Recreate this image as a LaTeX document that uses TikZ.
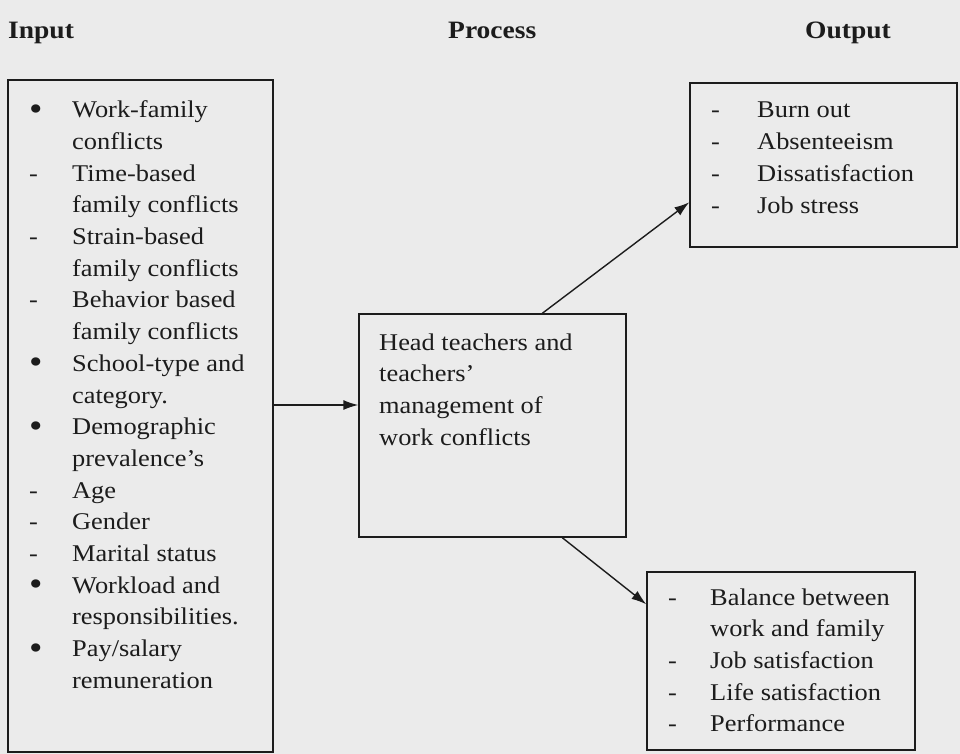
\documentclass[tikz,border=0pt]{standalone}
\usepackage{fontspec}
\setmainfont[FakeStretch=1.1]{Liberation Serif}
\usetikzlibrary{arrows.meta,calc}
\definecolor{paper}{RGB}{235,235,235}
\definecolor{ink}{RGB}{28,28,28}
\newcommand{\bodysize}{\fontsize{24}{31.7}\selectfont}
\newcommand{\bigbul}{\raisebox{-0.1em}{\scalebox{1.45}{\textbullet}}}
\begin{document}
\begin{tikzpicture}[x=1pt,y=-1pt,
  box/.style={draw=ink,line width=1.4pt,rectangle,inner sep=0pt},
  txt/.style={anchor=base west,inner sep=0pt,text=ink,font=\bodysize},
  head/.style={anchor=base west,inner sep=0pt,text=ink,font=\fontsize{25}{30}\selectfont\bfseries},
  conn/.style={draw=ink,line width=1.4pt,-{Latex[length=15pt,width=10pt]}}]
\fill[paper] (0,0) rectangle (960,754);
\useasboundingbox (0,0) rectangle (960,754);
% headings
\node[head] (hin) at (8,39) {Input};
\node[head] (hpr) at (448,39) {Process};
\node[head] (hout) at (805,39) {Output};
% boxes
\node[box,minimum width=265pt,minimum height=672pt] (inbox) at (140.5,416) {};
\node[box,minimum width=267pt,minimum height=223pt] (proc) at (492.5,425.5) {};
\node[box,minimum width=267pt,minimum height=164pt] (out1) at (823.5,165) {};
\node[box,minimum width=268pt,minimum height=178pt] (out2) at (781,661) {};
% texts
\node[txt] (inlist) at (29,117.7) {\begin{tabular}[t]{@{}p{43pt}@{}l@{}}
\bigbul & Work-family\\
 & conflicts\\
- & Time-based\\
 & family conflicts\\
- & Strain-based\\
 & family conflicts\\
- & Behavior based\\
 & family conflicts\\
\bigbul & School-type and\\
 & category.\\
\bigbul & Demographic\\
 & prevalence’s\\
- & Age\\
- & Gender\\
- & Marital status\\
\bigbul & Workload and\\
 & responsibilities.\\
\bigbul & Pay/salary\\
 & remuneration
\end{tabular}};
\node[txt] (proctext) at (379,350) {\begin{tabular}[t]{@{}l@{}}
Head teachers and\\
teachers’\\
management of\\
work conflicts
\end{tabular}};
\node[txt] (out1text) at (711,118) {\begin{tabular}[t]{@{}p{46pt}@{}l@{}}
- & Burn out\\
- & Absenteeism\\
- & Dissatisfaction\\
- & Job stress
\end{tabular}};
\node[txt] (out2text) at (668,605) {\begin{tabular}[t]{@{}p{42pt}@{}l@{}}
- & Balance between\\
 & work and family\\
- & Job satisfaction\\
- & Life satisfaction\\
- & Performance
\end{tabular}};
% connectors
\coordinate (a1) at (0,405);
\draw[conn] (inbox.east |- a1) -- (proc.west |- a1);
\draw[conn] ($(proc.north west)+(184,0)$) -- ($(out1.north west)+(0,120)$);
\draw[conn] ($(proc.south west)+(204,0)$) -- ($(out2.north west)+(0,33)$);
\end{tikzpicture}
\end{document}
